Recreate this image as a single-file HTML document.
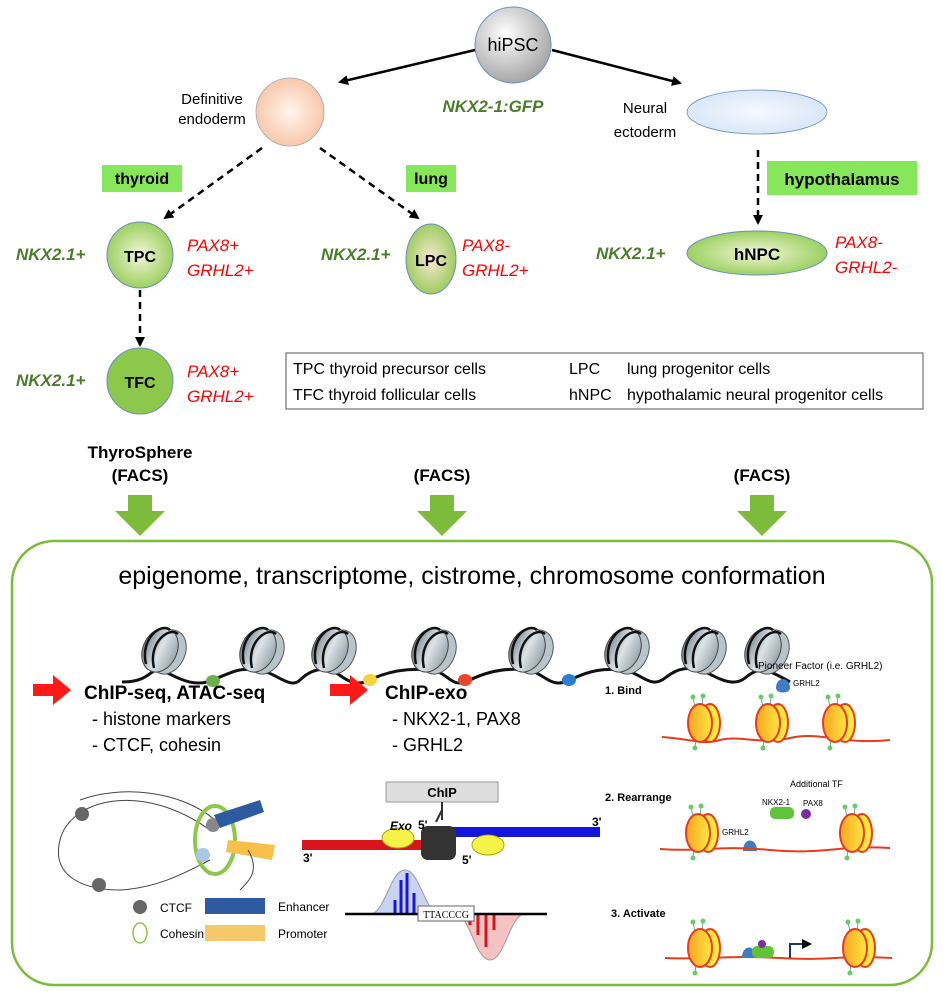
<!DOCTYPE html>
<html><head><meta charset="utf-8"><style>
body{margin:0;background:#fff}
svg{display:block;font-family:"Liberation Sans",Arial,sans-serif}
.g{fill:#4a7d2a;font-weight:bold;font-style:italic;font-size:17px}
.r{fill:#ff0000;font-style:italic;font-size:17px}
.b{font-weight:bold}
</style></head><body>
<svg width="945" height="996" viewBox="0 0 945 996" xmlns="http://www.w3.org/2000/svg">
<defs>
<radialGradient id="grey" cx="40%" cy="35%" r="70%"><stop offset="0" stop-color="#fff"/><stop offset="1" stop-color="#a0a0a0"/></radialGradient>
<radialGradient id="peach" cx="50%" cy="50%" r="60%"><stop offset="0" stop-color="#fff5ee"/><stop offset="1" stop-color="#f7bf9c"/></radialGradient>
<radialGradient id="blue" cx="50%" cy="50%" r="60%"><stop offset="0" stop-color="#f5f9ff"/><stop offset="1" stop-color="#d4e4f6"/></radialGradient>
<radialGradient id="grn" cx="50%" cy="50%" r="60%"><stop offset="0" stop-color="#f3f7d8"/><stop offset="1" stop-color="#8cc84b"/></radialGradient>
<radialGradient id="lpc" cx="50%" cy="50%" r="60%"><stop offset="0" stop-color="#fbe7d2"/><stop offset="1" stop-color="#8cc84b"/></radialGradient>
<marker id="ar" markerWidth="10" markerHeight="10" refX="8" refY="5" orient="auto" markerUnits="userSpaceOnUse"><path d="M0,0 L10,5 L0,10 z" fill="#000"/></marker>
<linearGradient id="nuc" x1="0" x2="1"><stop offset="0" stop-color="#7d8a94"/><stop offset="0.5" stop-color="#dde4e8"/><stop offset="1" stop-color="#9aa6ae"/></linearGradient>
<linearGradient id="yel" x1="0" x2="1"><stop offset="0" stop-color="#f5a623"/><stop offset="1" stop-color="#ffe640"/></linearGradient>
<g id="nc">
<ellipse cx="8" cy="2" rx="17" ry="23" transform="rotate(25 8 2)" fill="#b8c4cc" stroke="#555"/>
<ellipse cx="0" cy="0" rx="17" ry="23" transform="rotate(25 0 0)" fill="url(#nuc)" stroke="#444"/>
<path d="M-14,14 C-20,-10 0,-28 10,-20" fill="none" stroke="#111" stroke-width="2.5"/>
<path d="M-6,18 C-12,-6 8,-24 18,-16" fill="none" stroke="#111" stroke-width="2.5"/>
</g>
<g id="yn">
<g stroke="#6a9" stroke-width="1"><line x1="-5" y1="-16" x2="-7" y2="-26"/><line x1="2" y1="-16" x2="3" y2="-27"/><line x1="-4" y1="16" x2="-5" y2="25"/></g>
<g fill="#6c6"><circle cx="-7" cy="-26" r="2.5"/><circle cx="3" cy="-27" r="2.5"/><circle cx="-5" cy="25" r="2.5"/></g>
<ellipse cx="10" cy="0" rx="10" ry="19" fill="#ffe640" stroke="#e63c1c" stroke-width="2"/>
<ellipse cx="0" cy="0" rx="12" ry="19" fill="url(#yel)" stroke="#e63c1c" stroke-width="2"/>
</g>
</defs>

<!-- top tree -->
<circle cx="513" cy="45" r="38" fill="url(#grey)" stroke="#6a8fbf" stroke-width="1"/>
<text x="513" y="51" font-size="18" text-anchor="middle">hiPSC</text>
<line x1="475" y1="50" x2="340" y2="82" stroke="#000" stroke-width="2.5" marker-end="url(#ar)"/>
<line x1="552" y1="50" x2="680" y2="83" stroke="#000" stroke-width="2.5" marker-end="url(#ar)"/>
<circle cx="290" cy="112" r="34" fill="url(#peach)" stroke="#9ab" stroke-width="0.8"/>
<text x="212" y="104" font-size="15" text-anchor="middle">Definitive</text>
<text x="212" y="124" font-size="15" text-anchor="middle">endoderm</text>
<text x="493" y="112" class="g" text-anchor="middle">NKX2-1:GFP</text>
<ellipse cx="757" cy="112" rx="70" ry="22" fill="url(#blue)" stroke="#6a8fbf" stroke-width="0.8"/>
<text x="645" y="113" font-size="15" text-anchor="middle">Neural</text>
<text x="645" y="137" font-size="15" text-anchor="middle">ectoderm</text>

<line x1="262" y1="148" x2="165" y2="218" stroke="#000" stroke-width="2.5" stroke-dasharray="7,5" marker-end="url(#ar)"/>
<line x1="320" y1="148" x2="418" y2="218" stroke="#000" stroke-width="2.5" stroke-dasharray="7,5" marker-end="url(#ar)"/>
<line x1="758" y1="150" x2="758" y2="223" stroke="#000" stroke-width="2.5" stroke-dasharray="7,5" marker-end="url(#ar)"/>

<rect x="102" y="165" width="80" height="27" fill="#86e75a"/>
<text x="142" y="184" font-size="16" class="b" text-anchor="middle">thyroid</text>
<rect x="406" y="165" width="50" height="27" fill="#86e75a"/>
<text x="431" y="184" font-size="16" class="b" text-anchor="middle">lung</text>
<rect x="767" y="161" width="150" height="34" fill="#86e75a"/>
<text x="842" y="185" font-size="17" class="b" text-anchor="middle">hypothalamus</text>

<circle cx="140" cy="255" r="33" fill="url(#grn)" stroke="#6a8fbf" stroke-width="1"/>
<text x="140" y="262" font-size="16" class="b" text-anchor="middle">TPC</text>
<text x="16" y="260" class="g">NKX2.1+</text>
<text x="187" y="251" class="r">PAX8+</text>
<text x="187" y="276" class="r">GRHL2+</text>

<ellipse cx="431" cy="259" rx="25" ry="35" fill="url(#lpc)" stroke="#6a8fbf" stroke-width="1"/>
<text x="431" y="266" font-size="16" class="b" text-anchor="middle">LPC</text>
<text x="321" y="260" class="g">NKX2.1+</text>
<text x="462" y="251" class="r">PAX8-</text>
<text x="462" y="276" class="r">GRHL2+</text>

<ellipse cx="757" cy="253" rx="70" ry="22" fill="url(#grn)" stroke="#6a8fbf" stroke-width="1"/>
<text x="757" y="260" font-size="17" class="b" text-anchor="middle">hNPC</text>
<text x="596" y="259" class="g">NKX2.1+</text>
<text x="835" y="248" class="r">PAX8-</text>
<text x="835" y="273" class="r">GRHL2-</text>

<line x1="140" y1="290" x2="140" y2="345" stroke="#000" stroke-width="2.5" stroke-dasharray="7,5" marker-end="url(#ar)"/>
<circle cx="140" cy="381" r="33" fill="#8cc84b" stroke="#6a8fbf" stroke-width="1"/>
<text x="140" y="388" font-size="16" class="b" text-anchor="middle">TFC</text>
<text x="16" y="386" class="g">NKX2.1+</text>
<text x="187" y="377" class="r">PAX8+</text>
<text x="187" y="402" class="r">GRHL2+</text>

<rect x="286" y="353" width="637" height="56" fill="#fff" stroke="#555" stroke-width="1"/>
<g font-size="16">
<text x="293" y="374">TPC  thyroid precursor cells</text>
<text x="293" y="400">TFC  thyroid follicular cells</text>
<text x="569" y="374">LPC</text><text x="627" y="374">lung progenitor cells</text>
<text x="569" y="400">hNPC</text><text x="627" y="400">hypothalamic neural progenitor cells</text>
</g>

<g font-size="17" class="b" text-anchor="middle">
<text x="140" y="458">ThyroSphere</text>
<text x="140" y="481">(FACS)</text>
<text x="442" y="481">(FACS)</text>
<text x="762" y="481">(FACS)</text>
</g>
<g fill="#7dbb3b">
<path d="M128,495 h24 v16 h13 l-25,25 l-25,-25 h13z"/>
<path d="M430,495 h24 v16 h13 l-25,25 l-25,-25 h13z"/>
<path d="M750,495 h24 v16 h13 l-25,25 l-25,-25 h13z"/>
</g>

<!-- big box -->
<rect x="12" y="541" width="920" height="444" rx="42" fill="none" stroke="#7dbb3b" stroke-width="2.5"/>
<text x="472" y="584" font-size="25" text-anchor="middle">epigenome, transcriptome, cistrome, chromosome conformation</text>

<!-- chromatin -->
<path d="M122,682 C150,682 150,668 160,670 S190,690 213,680 S240,668 258,670 S290,690 300,680 S320,668 330,670 S350,690 370,680 S410,668 430,670 S450,690 470,680 S510,668 527,670 S550,690 570,680 S605,668 623,670 S650,690 665,678 S690,668 700,670 S730,690 745,678 S765,668 790,682" fill="none" stroke="#111" stroke-width="3"/>
<use href="#nc" x="160" y="650"/>
<use href="#nc" x="258" y="650"/>
<use href="#nc" x="330" y="650"/>
<use href="#nc" x="430" y="650"/>
<use href="#nc" x="527" y="650"/>
<use href="#nc" x="623" y="650"/>
<use href="#nc" x="700" y="650"/>
<use href="#nc" x="763" y="650"/>
<ellipse cx="213" cy="681" rx="7" ry="6" fill="#6ab04c"/>
<ellipse cx="370" cy="680" rx="7" ry="6" fill="#f5d442"/>
<ellipse cx="465" cy="680" rx="7" ry="6" fill="#e8452c"/>
<ellipse cx="569" cy="680" rx="7" ry="6" fill="#2b7fd1"/>

<!-- left -->
<path d="M33,684 h20 v-9 l18,15 l-18,15 v-9 h-20z" fill="#ff1a1a"/>
<text x="84" y="699" font-size="19" class="b">ChIP-seq, ATAC-seq</text>
<text x="92" y="725" font-size="18">- histone markers</text>
<text x="92" y="751" font-size="18">- CTCF, cohesin</text>
<path d="M330,684 h20 v-9 l18,15 l-18,15 v-9 h-20z" fill="#ff1a1a"/>
<text x="385" y="699" font-size="19" class="b">ChIP-exo</text>
<text x="392" y="725" font-size="18">- NKX2-1, PAX8</text>
<text x="392" y="751" font-size="18">- GRHL2</text>

<!-- loop -->
<path d="M210,830 C140,780 70,800 60,840 C50,880 90,890 120,890 C160,888 190,870 210,860" fill="none" stroke="#444"/>
<path d="M80,800 C120,785 180,790 215,820" fill="none" stroke="#444"/>
<ellipse cx="215" cy="840" rx="20" ry="34" fill="none" stroke="#8cc84b" stroke-width="4"/>
<circle cx="82" cy="814" r="7" fill="#666"/>
<circle cx="99" cy="885" r="7" fill="#666"/>
<circle cx="213" cy="825" r="7" fill="#888"/>
<circle cx="203" cy="855" r="7" fill="#a9c8e8"/>
<path d="M214,815 L260,800 L264,812 L220,828z" fill="#2d5aa0"/>
<path d="M228,840 L275,845 L272,860 L226,852z" fill="#f6c04a"/>
<path d="M248,850 C260,870 250,880 240,890" fill="none" stroke="#444"/>
<circle cx="140" cy="907" r="7" fill="#666"/>
<text x="160" y="912" font-size="12">CTCF</text>
<ellipse cx="140" cy="933" rx="7" ry="10" fill="none" stroke="#8cc84b" stroke-width="1.5"/>
<text x="160" y="938" font-size="12">Cohesin</text>
<rect x="205" y="898" width="60" height="16" fill="#2d5aa0"/>
<text x="278" y="911" font-size="12">Enhancer</text>
<rect x="205" y="925" width="60" height="16" fill="#f6c86a"/>
<text x="278" y="938" font-size="12">Promoter</text>

<!-- chip-exo -->
<rect x="386" y="782" width="112" height="20" fill="#ddd" stroke="#999"/>
<text x="442" y="797" font-size="13" class="b" text-anchor="middle">ChIP</text>
<path d="M442,802 v18 M442,810 l-6,12" stroke="#333" stroke-width="2" fill="none"/>
<rect x="430" y="827" width="170" height="10" fill="#1515e0"/>
<rect x="302" y="840" width="120" height="10" fill="#d8141c"/>
<ellipse cx="398" cy="838" rx="16" ry="10" fill="#f5f34a" stroke="#aa0"/>
<ellipse cx="488" cy="845" rx="16" ry="10" fill="#f5f34a" stroke="#aa0"/>
<rect x="421" y="826" width="35" height="34" rx="7" fill="#333"/>
<text x="390" y="830" font-size="12" class="b" font-style="italic">Exo</text>
<text x="418" y="829" font-size="12" class="b">5'</text>
<text x="462" y="864" font-size="12" class="b">5'</text>
<text x="303" y="862" font-size="12" class="b">3'</text>
<text x="592" y="826" font-size="12" class="b">3'</text>
<path d="M370,914 C385,914 390,870 405,870 C420,870 425,914 440,914z" fill="#c9d4f3" stroke="#99a"/>
<g stroke="#1515e0" stroke-width="3"><line x1="395" y1="914" x2="395" y2="900"/><line x1="401" y1="914" x2="401" y2="880"/><line x1="407" y1="914" x2="407" y2="873"/><line x1="414" y1="914" x2="414" y2="893"/></g>
<path d="M455,914 C470,914 475,960 490,960 C505,960 510,914 525,914z" fill="#f4c2c2" stroke="#a99"/>
<g stroke="#d8141c" stroke-width="3"><line x1="478" y1="914" x2="478" y2="935"/><line x1="486" y1="914" x2="486" y2="947"/><line x1="494" y1="914" x2="494" y2="930"/><line x1="470" y1="914" x2="470" y2="925"/></g>
<line x1="345" y1="914" x2="547" y2="914" stroke="#000" stroke-width="2.5"/>
<rect x="418" y="906" width="56" height="15" fill="#fff" stroke="#666"/>
<text x="446" y="918" font-size="10" font-family="Liberation Serif" text-anchor="middle">TTACCCG</text>

<!-- right panel -->
<g font-size="11" class="b"><text x="605" y="694">1. Bind</text><text x="605" y="801">2. Rearrange</text><text x="611" y="917">3. Activate</text></g>
<text x="758" y="669" font-size="10">Pioneer Factor  (i.e. GRHL2)</text>
<path d="M776,688 c0,-12 14,-12 14,0 c0,6 -14,6 -14,0z" fill="#3e7cc4"/>
<text x="793" y="686" font-size="8">GRHL2</text>
<text x="790" y="787" font-size="9">Additional TF</text>
<text x="762" y="805" font-size="8">NKX2-1</text><text x="803" y="806" font-size="8">PAX8</text>
<rect x="770" y="807" width="24" height="12" rx="5" fill="#5fc43a"/>
<circle cx="806" cy="814" r="5" fill="#7a2ca0"/>
<text x="722" y="835" font-size="8">GRHL2</text>
<path d="M743,851 c0,-14 14,-14 14,0z" fill="#3e7cc4"/>
<g fill="none" stroke="#e63c1c" stroke-width="2">
<path d="M662,737 C700,740 700,745 720,740 S760,745 790,738 S840,745 890,740"/>
<path d="M660,849 C700,852 720,845 770,850 S840,845 890,848"/>
<path d="M665,958 C700,960 730,955 780,958 S840,955 892,958"/>
</g>
<use href="#yn" x="700" y="723"/><use href="#yn" x="768" y="723"/><use href="#yn" x="835" y="723"/>
<use href="#yn" x="698" y="833"/><use href="#yn" x="852" y="833"/>
<use href="#yn" x="700" y="948"/><use href="#yn" x="855" y="948"/>
<path d="M742,958 c0,-14 14,-14 14,0z" fill="#3e7cc4"/>
<rect x="752" y="946" width="22" height="12" rx="5" fill="#5fc43a"/>
<circle cx="762" cy="944" r="4" fill="#7a2ca0"/>
<path d="M790,958 v-14 h20" stroke="#1d3a6e" stroke-width="2" fill="none" marker-end="url(#ar)"/>
</svg>
</body></html>
